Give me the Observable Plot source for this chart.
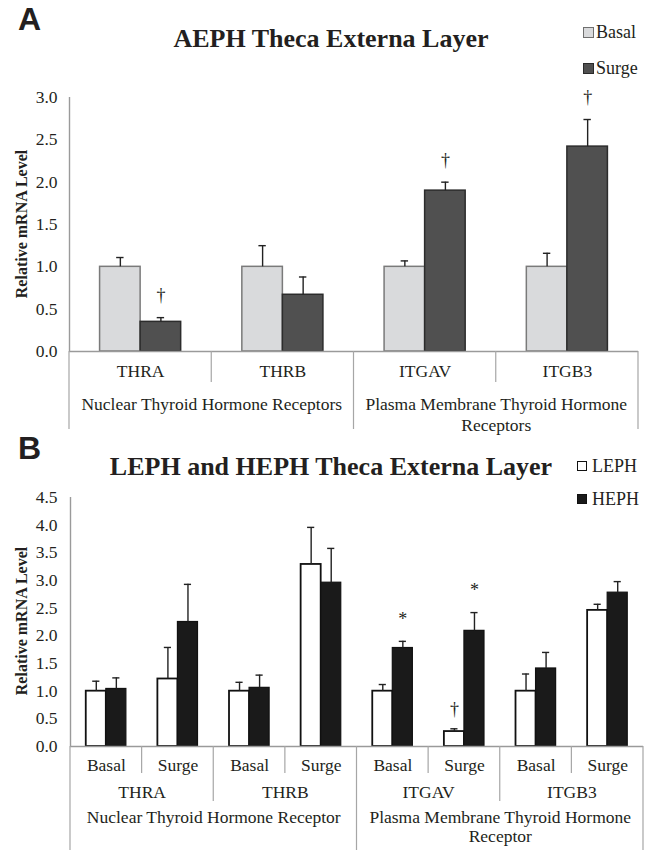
<!DOCTYPE html>
<html><head><meta charset="utf-8">
<script src="https://cdn.jsdelivr.net/npm/d3@7"></script>
<script src="https://cdn.jsdelivr.net/npm/@observablehq/plot@0.6"></script>
<style>
body{margin:0;background:#fff;}
#wrap{position:relative;width:657px;height:850px;overflow:hidden;font-family:"Liberation Serif","Times New Roman",serif;color:#231f20;background:#fff;}
.abs{position:absolute;white-space:nowrap;line-height:1;font-family:"Liberation Serif","Times New Roman",serif;}
.title{left:0;width:657px;text-align:center;font-weight:bold;font-size:26px;padding-left:5px;box-sizing:border-box;}
.letter{font-family:"Liberation Sans",Arial,sans-serif;font-weight:bold;font-size:32px;}
.leg{font-size:18px;display:flex;align-items:center;height:18px;}
.sw{display:inline-block;box-sizing:border-box;margin-right:2px;}
.ylab{font-weight:bold;font-size:16px;transform:translate(-50%,-50%) rotate(-90deg);}
#pa{position:absolute;left:0;top:0;}
#pb{position:absolute;left:0;top:440px;}
svg text{font-family:"Liberation Serif","Times New Roman",serif;}
</style></head>
<body>
<div id="wrap">
  <div id="pa"></div>
  <div id="pb"></div>
  <div class="abs letter" style="left:18px;top:3px;">A</div>
  <div class="abs title" style="top:26px;">AEPH Theca Externa Layer</div>
  <div class="abs leg" style="left:583px;top:23px;"><span class="sw" style="width:11px;height:11px;background:#d9dadc;border:1.5px solid #6f6f6f;"></span>Basal</div>
  <div class="abs leg" style="left:583px;top:59px;"><span class="sw" style="width:11px;height:11px;background:#505050;border:1.5px solid #2a2a2a;"></span>Surge</div>
  <div class="abs ylab" style="left:22px;top:224px;">Relative mRNA Level</div>

  <div class="abs letter" style="left:18px;top:432px;">B</div>
  <div class="abs title" style="top:454px;">LEPH and HEPH Theca Externa Layer</div>
  <div class="abs leg" style="left:577px;top:457px;"><span class="sw" style="width:10px;height:10px;background:#fff;border:1.8px solid #111;margin-right:5px;"></span>LEPH</div>
  <div class="abs leg" style="left:577px;top:490px;"><span class="sw" style="width:10px;height:10px;background:#1a1a1a;border:1px solid #111;margin-right:5px;"></span>HEPH</div>
  <div class="abs ylab" style="left:22px;top:621px;">Relative mRNA Level</div>
</div>
<script>
// ---------- Panel A data ----------
const genesA = ["THRA", "THRB", "ITGAV", "ITGB3"];
const basalA = [1.00, 1.00, 1.00, 1.00];
const basalErrA = [0.11, 0.25, 0.07, 0.16];
const surgeA = [0.35, 0.67, 1.90, 2.42];
const surgeErrA = [0.05, 0.21, 0.10, 0.32];
const surgeSigA = ["†", "", "†", "†"];
const groupsA = ["Nuclear Thyroid Hormone Receptors", "Plasma Membrane Thyroid Hormone\nReceptors"];
const groupSpanA = [2, 2];
const yTicksA = [0, 0.5, 1.0, 1.5, 2.0, 2.5, 3.0];

// ---------- Panel B data ----------
const phasesB = ["Basal", "Surge", "Basal", "Surge", "Basal", "Surge", "Basal", "Surge"];
const genesB = ["THRA", "THRB", "ITGAV", "ITGB3"];
const lephB = [1.00, 1.22, 1.00, 3.29, 1.00, 0.27, 1.00, 2.46];
const lephErrB = [0.18, 0.57, 0.16, 0.67, 0.12, 0.05, 0.31, 0.11];
const lephSigB = ["", "", "", "", "", "†", "", ""];
const hephB = [1.04, 2.25, 1.06, 2.96, 1.78, 2.09, 1.41, 2.78];
const hephErrB = [0.20, 0.68, 0.23, 0.62, 0.12, 0.33, 0.29, 0.20];
const hephSigB = ["", "", "", "", "*", "*", "", ""];
const groupsB = ["Nuclear Thyroid Hormone Receptor", "Plasma Membrane Thyroid Hormone\nReceptor"];
const groupSpanB = [4, 4];
const yTicksB = [0, 0.5, 1.0, 1.5, 2.0, 2.5, 3.0, 3.5, 4.0, 4.5];

const FONT = '"Liberation Serif", "Times New Roman", serif';
const INK = "#231f20";
const AXIS = "#9a9a9a";
const FS = 17.5;

function spansToCenters(spans) {
  let s = 0; return spans.map(n => { const c = s + n / 2; s += n; return c; });
}
function spansToBounds(spans) {
  let s = 0; const b = [0]; spans.forEach(n => { s += n; b.push(s); }); return b;
}

function drawDividers(svg, levels, total) {
  const xs = svg.scale("x"), ys = svg.scale("y");
  const y0 = ys.apply(0);
  const g = d3.select(svg).append("g").attr("stroke", "#a6a6a6").attr("stroke-width", 1.2);
  for (let k = 0; k <= total; k++) {
    let len = 0;
    levels.forEach(l => { if (l.bounds.includes(k)) len = Math.max(len, l.len); });
    if (len > 0) {
      const x = xs.apply(k);
      g.append("line").attr("x1", x).attr("x2", x).attr("y1", y0).attr("y2", y0 + len);
    }
  }
}

const TXT = {fontFamily: FONT, fill: INK};

// ---------- Panel A ----------
const rowsA = genesA.map((g, i) => ({
  g, i, basal: basalA[i], basalErr: basalErrA[i], surge: surgeA[i], surgeErr: surgeErrA[i], sig: surgeSigA[i]
}));
const BWA = 0.285, CAPA = 0.026;
const gcA = spansToCenters(groupSpanA);

const chartA = Plot.plot({
  width: 657, height: 440,
  marginLeft: 69, marginRight: 19, marginTop: 97, marginBottom: 89,
  x: {domain: [0, genesA.length], axis: null},
  y: {domain: [0, 3], ticks: yTicksA, tickFormat: d3.format(".1f"), tickSize: 0, tickPadding: 12, label: null},
  style: {fontFamily: FONT, fontSize: FS + "px", color: INK, background: "transparent"},
  marks: [
    Plot.rect(rowsA, {x1: d => d.i + 0.5 - BWA, x2: d => d.i + 0.5, y1: 0, y2: "basal", fill: "#d9dadc", stroke: "#7a7a7a", strokeWidth: 1.5}),
    Plot.rect(rowsA, {x1: d => d.i + 0.5, x2: d => d.i + 0.5 + BWA, y1: 0, y2: "surge", fill: "#505050", stroke: "#2c2c2c", strokeWidth: 1.5}),
    Plot.ruleX(rowsA, {x: d => d.i + 0.5 - BWA / 2, y1: "basal", y2: d => d.basal + d.basalErr, stroke: "#222", strokeWidth: 1.4}),
    Plot.ruleY(rowsA, {y: d => d.basal + d.basalErr, x1: d => d.i + 0.5 - BWA / 2 - CAPA, x2: d => d.i + 0.5 - BWA / 2 + CAPA, stroke: "#222", strokeWidth: 1.4}),
    Plot.ruleX(rowsA, {x: d => d.i + 0.5 + BWA / 2, y1: "surge", y2: d => d.surge + d.surgeErr, stroke: "#222", strokeWidth: 1.4}),
    Plot.ruleY(rowsA, {y: d => d.surge + d.surgeErr, x1: d => d.i + 0.5 + BWA / 2 - CAPA, x2: d => d.i + 0.5 + BWA / 2 + CAPA, stroke: "#222", strokeWidth: 1.4}),
    Plot.text(rowsA.filter(d => d.sig), {x: d => d.i + 0.5 + BWA / 2, y: d => d.surge + d.surgeErr, text: "sig", dy: -22, fontSize: 18, ...TXT}),
    Plot.ruleX([0], {stroke: AXIS, strokeWidth: 1.4}),
    Plot.ruleY([0], {stroke: AXIS, strokeWidth: 1.6}),
    Plot.text(genesA, {x: (d, i) => i + 0.5, y: 0, text: d => d, dy: 20, fontSize: FS, ...TXT}),
    Plot.text(groupsA, {x: (d, i) => gcA[i], y: 0, text: d => d, dy: 44, lineAnchor: "top", lineHeight: 1.2, fontSize: FS, ...TXT})
  ]
});
drawDividers(chartA, [
  {bounds: d3.range(0, genesA.length + 1), len: 31},
  {bounds: spansToBounds(groupSpanA), len: 78}
], genesA.length);
document.getElementById("pa").appendChild(chartA);

// ---------- Panel B ----------
const rowsB = phasesB.map((p, i) => ({
  p, i, leph: lephB[i], lephErr: lephErrB[i], lsig: lephSigB[i], heph: hephB[i], hephErr: hephErrB[i], hsig: hephSigB[i]
}));
const BWB = 0.28, CAPB = 0.05;
const geneSpanB = genesB.map(() => 2);
const gnB = spansToCenters(geneSpanB);
const gcB = spansToCenters(groupSpanB);

const chartB = Plot.plot({
  width: 657, height: 410,
  marginLeft: 70, marginRight: 14, marginTop: 57, marginBottom: 104,
  x: {domain: [0, phasesB.length], axis: null},
  y: {domain: [0, 4.5], ticks: yTicksB, tickFormat: d3.format(".1f"), tickSize: 0, tickPadding: 13, label: null},
  style: {fontFamily: FONT, fontSize: FS + "px", color: INK, background: "transparent"},
  marks: [
    Plot.rect(rowsB, {x1: d => d.i + 0.5 - BWB, x2: d => d.i + 0.5, y1: 0, y2: "leph", fill: "#ffffff", stroke: "#111", strokeWidth: 1.8}),
    Plot.rect(rowsB, {x1: d => d.i + 0.5, x2: d => d.i + 0.5 + BWB, y1: 0, y2: "heph", fill: "#1a1a1a", stroke: "#111", strokeWidth: 1.2}),
    Plot.ruleX(rowsB, {x: d => d.i + 0.5 - BWB / 2, y1: "leph", y2: d => d.leph + d.lephErr, stroke: "#222", strokeWidth: 1.4}),
    Plot.ruleY(rowsB, {y: d => d.leph + d.lephErr, x1: d => d.i + 0.5 - BWB / 2 - CAPB, x2: d => d.i + 0.5 - BWB / 2 + CAPB, stroke: "#222", strokeWidth: 1.4}),
    Plot.ruleX(rowsB, {x: d => d.i + 0.5 + BWB / 2, y1: "heph", y2: d => d.heph + d.hephErr, stroke: "#222", strokeWidth: 1.4}),
    Plot.ruleY(rowsB, {y: d => d.heph + d.hephErr, x1: d => d.i + 0.5 + BWB / 2 - CAPB, x2: d => d.i + 0.5 + BWB / 2 + CAPB, stroke: "#222", strokeWidth: 1.4}),
    Plot.text(rowsB.filter(d => d.lsig), {x: d => d.i + 0.5 - BWB / 2, y: d => d.leph + d.lephErr, text: "lsig", dy: -20, fontSize: 18, ...TXT}),
    Plot.text(rowsB.filter(d => d.hsig), {x: d => d.i + 0.5 + BWB / 2, y: d => d.heph + d.hephErr, text: "hsig", dy: -22, fontSize: 18, ...TXT}),
    Plot.ruleX([0], {stroke: AXIS, strokeWidth: 1.4}),
    Plot.ruleY([0], {stroke: AXIS, strokeWidth: 1.6}),
    Plot.text(phasesB, {x: (d, i) => i + 0.5, y: 0, text: d => d, dy: 19, fontSize: FS, ...TXT}),
    Plot.text(genesB, {x: (d, i) => gnB[i], y: 0, text: d => d, dy: 46, fontSize: FS, ...TXT}),
    Plot.text(groupsB, {x: (d, i) => gcB[i], y: 0, text: d => d, dy: 63, lineAnchor: "top", lineHeight: 1.08, fontSize: FS, ...TXT})
  ]
});
drawDividers(chartB, [
  {bounds: d3.range(0, phasesB.length + 1), len: 27},
  {bounds: spansToBounds(geneSpanB), len: 55},
  {bounds: spansToBounds(groupSpanB), len: 104}
], phasesB.length);
document.getElementById("pb").appendChild(chartB);
</script>
</body></html>
